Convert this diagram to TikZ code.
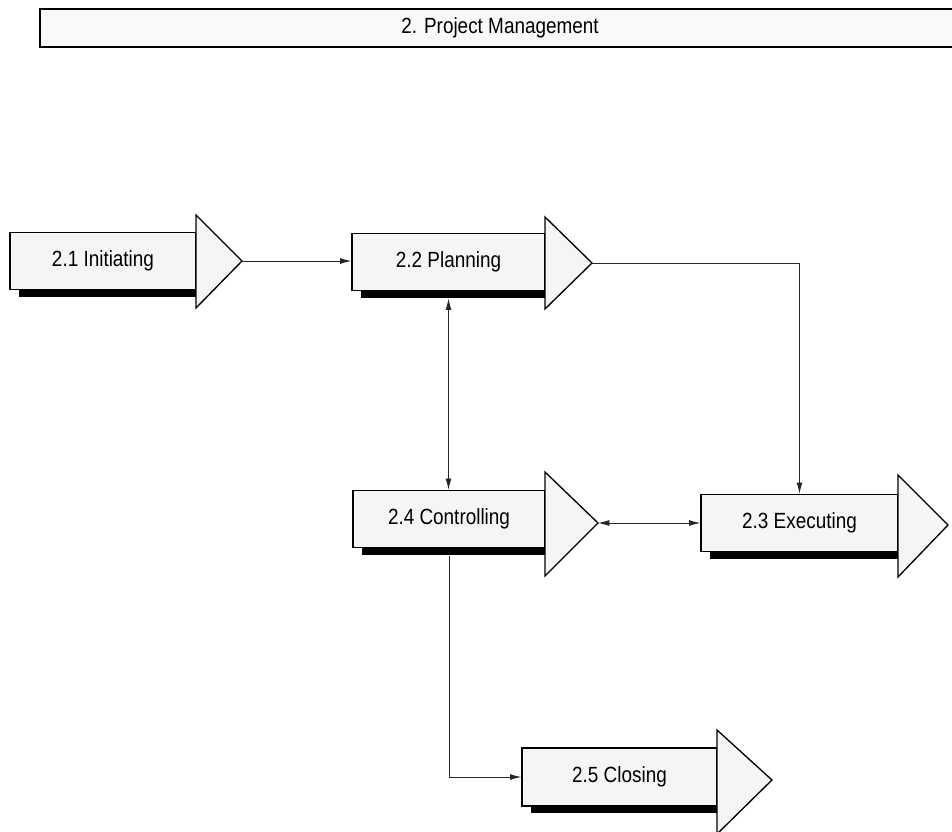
\documentclass[tikz,border=0pt]{standalone}
\usepackage{fontspec}
\newfontfamily\boxfont[FakeStretch=0.86]{Liberation Sans}
\usepackage{xcolor}
\usepackage{tikz}
\usetikzlibrary{arrows.meta}
\usetikzlibrary{shadows}

\begin{document}
\begin{tikzpicture}[x=0.75pt,y=-0.75pt]
	\useasboundingbox (0,0) rectangle (952,831);
	\tikzstyle{titlebox}=[draw,line width=1pt,fill=gray!5,minimum width=690pt,minimum height=28.5pt,inner sep=0pt,font=\boxfont\fontsize{16.5}{19}\selectfont];
	\tikzstyle{stage}=[draw,line width=1pt,fill=gray!8,minimum height=42.75pt,inner sep=0pt,font=\boxfont\fontsize{16.5}{19}\selectfont,drop shadow={shadow xshift=6.5pt,shadow yshift=-5.5pt,fill=black,opacity=1}];
	\tikzstyle{pointer}=[draw,line width=1pt,fill=gray!8,line join=miter];
	\tikzstyle{link}=[draw,line width=0.7pt,black!85,>={Latex[length=8.5pt,width=4.5pt]}];
	\node[titlebox] (title) at (500,28) {2. Project Management};
	\node[stage,minimum width=139.5pt] (init) at (103,261) {2.1 Initiating};
	\draw[pointer] (196,215) -- (242,261) coordinate (init tip) -- (196,308) -- cycle;
	\node[stage,minimum width=144.75pt] (plan) at (448.5,262) {2.2 Planning};
	\draw[pointer] (545,217) -- (592,263) coordinate (plan tip) -- (545,309) -- cycle;
	\node[stage,minimum width=144pt] (ctrl) at (449,519) {2.4 Controlling};
	\draw[pointer] (545,472) -- (598,523) coordinate (ctrl tip) -- (545,576) -- cycle;
	\node[stage,minimum width=147.75pt] (exec) at (799.5,523) {2.3 Executing};
	\draw[pointer] (898,475) -- (948,525) coordinate (exec tip) -- (898,577) -- cycle;
	\node[stage,minimum width=146.25pt,minimum height=43.5pt] (close) at (619.5,777) {2.5 Closing};
	\draw[pointer] (717,730) -- (772,780) coordinate (close tip) -- (717,834) -- cycle;
	\draw[link,->] (init tip) -- (init tip -| plan.west);
	\draw[link,->] (plan tip) -| (exec.north);
	\draw[link,<->] ([yshift=-5.5pt]plan.south) -- (plan.south |- ctrl.north);
	\draw[link,<->] (ctrl tip) -- (ctrl tip -| exec.west);
	\draw[link,->] ([yshift=-5.5pt]ctrl.south) |- (close.west);
\end{tikzpicture}
\end{document}
